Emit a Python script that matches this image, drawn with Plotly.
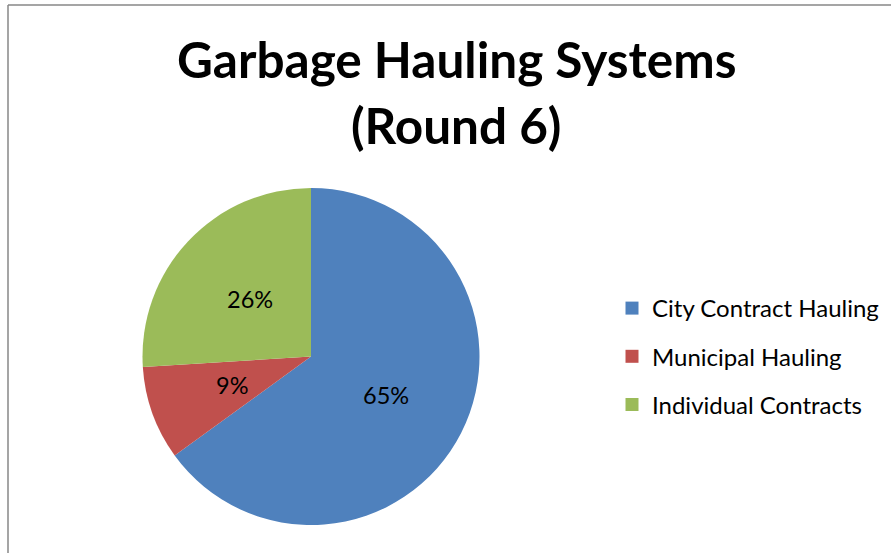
import math
import plotly.graph_objects as go

# Share of municipalities by garbage hauling system
categories = ["City Contract Hauling", "Municipal Hauling", "Individual Contracts"]
shares = [65, 9, 26]
colors = ["#4F81BD", "#C0504D", "#9BBB59"]
title_lines = ["Garbage Hauling Systems", "(Round 6)"]

W, H = 891, 553
FONT = "Lato"

# pie placement in pixels (centre and radius)
CX, CY, R = 311, 356.5, 168.5

fig = go.Figure()

fig.add_trace(go.Pie(
    labels=categories,
    values=shares,
    sort=False,
    direction="clockwise",
    rotation=0,
    marker=dict(colors=colors, line=dict(width=0)),
    textinfo="none",
    showlegend=False,
    domain=dict(x=[(CX - R) / W, (CX + R) / W], y=[1 - (CY + R) / H, 1 - (CY - R) / H]),
    hoverinfo="label+percent",
))

# Percentage labels at half the radius along each slice's middle angle
total = sum(shares)
annotations = []
cum = 0
for v in shares:
    mid = (cum + v / 2) / total * 2 * math.pi
    cum += v
    px = CX + 0.5 * R * math.sin(mid)
    py = CY - 0.5 * R * math.cos(mid)
    annotations.append(dict(
        text=f"{v / total:.0%}", x=px / W, y=1 - py / H, xref="paper", yref="paper",
        showarrow=False, xanchor="center", yanchor="middle",
        font=dict(family=FONT, size=23.5, color="black"),
    ))

# Legend entries, one group each so the rows can be spaced apart
for cat, col in zip(categories, colors):
    fig.add_trace(go.Scatter(
        x=[None], y=[None], mode="markers", name=cat, legendgroup=cat,
        marker=dict(symbol="square", size=13, color=col),
    ))

annotations += [
    dict(text=f"<b>{title_lines[0]}</b>", x=456 / W, y=1 - 59 / H, xref="paper", yref="paper",
         showarrow=False, xanchor="center", yanchor="middle", font=dict(family=FONT, size=49.5)),
    dict(text=f"<b>{title_lines[1]}</b>", x=456 / W, y=1 - 125 / H, xref="paper", yref="paper",
         showarrow=False, xanchor="center", yanchor="middle", font=dict(family=FONT, size=49.5)),
]

fig.update_layout(
    width=W, height=H,
    margin=dict(l=0, r=0, t=0, b=0),
    paper_bgcolor="white", plot_bgcolor="white",
    xaxis=dict(visible=False), yaxis=dict(visible=False),
    font=dict(family=FONT, color="black"),
    legend=dict(
        x=612 / W, xanchor="left", y=1 - 286 / H, yanchor="top",
        font=dict(family=FONT, size=24, color="black"),
        tracegroupgap=14, bgcolor="rgba(0,0,0,0)",
    ),
    annotations=annotations,
    shapes=[
        dict(type="line", xref="paper", yref="paper", x0=8 / W, x1=8 / W, y0=0, y1=1 - 5 / H,
             line=dict(color="#878787", width=1.5)),
        dict(type="line", xref="paper", yref="paper", x0=8 / W, x1=1, y0=1 - 5 / H, y1=1 - 5 / H,
             line=dict(color="#878787", width=1.5)),
    ],
)

fig.write_html("out.html")
